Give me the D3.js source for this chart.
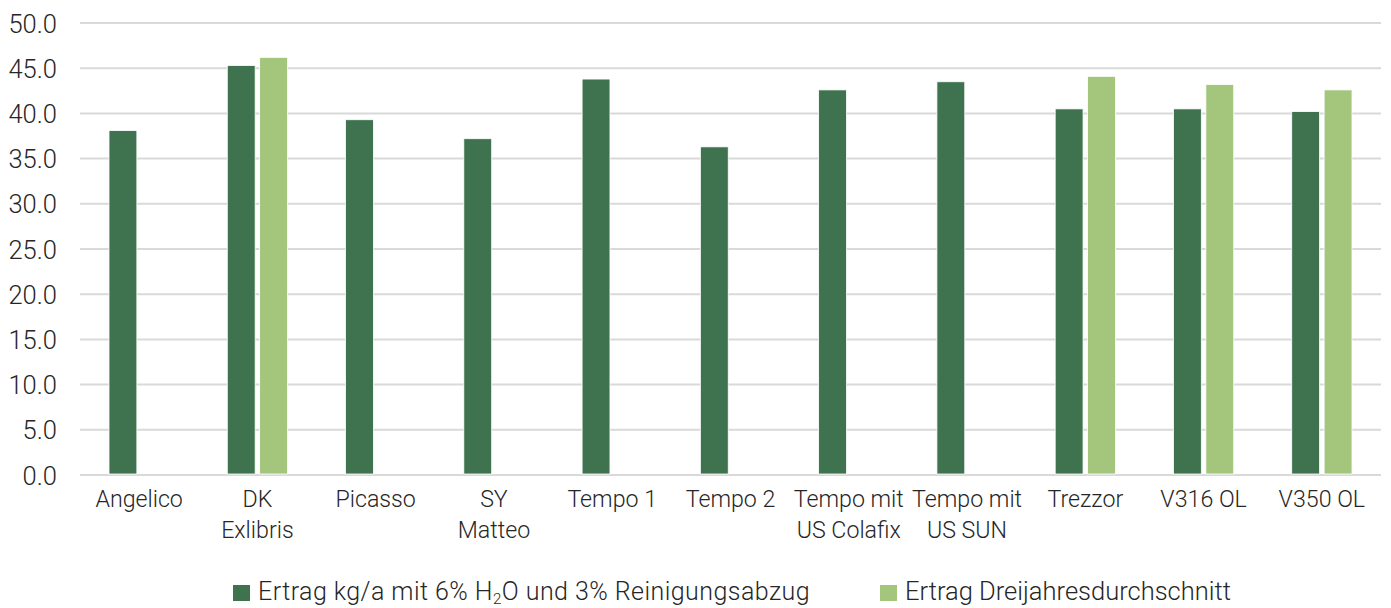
<!DOCTYPE html>
<html>
<head>
<meta charset="utf-8">
<script src="https://cdn.jsdelivr.net/npm/d3@7"></script>
<style>
  html, body { margin: 0; padding: 0; background: #fff; }
  svg { display: block; }
  text { font-family: Roboto, "Liberation Sans", sans-serif; font-weight: 300; fill: #262626; }
</style>
</head>
<body>
<svg id="chart" width="1391" height="608"></svg>
<script>
const categories = ["Angelico", "DK\nExlibris", "Picasso", "SY\nMatteo", "Tempo 1", "Tempo 2",
  "Tempo mit\nUS Colafix", "Tempo mit\nUS SUN", "Trezzor", "V316 OL", "V350 OL"];
const seriesNames = ["Ertrag kg/a mit 6% H2O und 3% Reinigungsabzug", "Ertrag Dreijahresdurchschnitt"];
const ertrag = [38.1, 45.3, 39.3, 37.2, 43.8, 36.3, 42.6, 43.5, 40.5, 40.5, 40.2];
const dreijahr = [null, 46.2, null, null, null, null, null, null, 44.1, 43.2, 42.6];
const yTicks = [0, 5, 10, 15, 20, 25, 30, 35, 40, 45, 50];
const colors = ["#3f7350", "#a3c67c"];

const svg = d3.select("#chart");
const mLeft = 80, mRight = 1381, mTop = 23, mBottom = 475;

const x = d3.scaleBand().domain(categories).range([mLeft, mRight]).paddingInner(0).paddingOuter(0);
const y = d3.scaleLinear().domain([0, 50]).range([mBottom, mTop]);
const inner = d3.scaleBand().domain([0, 1]).range([29, x.bandwidth() - 29]).paddingInner(0.14);

// gridlines
svg.append("g").selectAll("line").data(yTicks).join("line")
  .attr("x1", mLeft).attr("x2", mRight)
  .attr("y1", d => y(d)).attr("y2", d => y(d))
  .attr("stroke", "#d9d9d9").attr("stroke-width", 2);

// y axis labels
const yAxis = d3.axisLeft(y).tickValues(yTicks).tickFormat(d3.format(".1f")).tickSize(0).tickPadding(0);
const ya = svg.append("g").attr("transform", `translate(57,0)`).call(yAxis);
ya.select(".domain").remove();
ya.selectAll("text").style("font-size", "25.5px").style("font-family", "Roboto, sans-serif")
  .attr("fill", "#262626").attr("dy", "0.36em");

// bars
const series = [ertrag, dreijahr];
series.forEach((vals, si) => {
  svg.append("g").selectAll("rect")
    .data(vals.map((v, i) => ({ v, c: categories[i] })).filter(d => d.v != null))
    .join("rect")
    .attr("x", d => x(d.c) + inner(si))
    .attr("width", inner.bandwidth())
    .attr("y", d => y(d.v))
    .attr("height", d => y(0) - y(d.v) - 1)
    .attr("fill", colors[si])
    .attr("stroke", "#ffffff").attr("stroke-width", 0.8);
});

// category labels
const xl = svg.append("g");
categories.forEach(c => {
  const t = xl.append("text").attr("text-anchor", "middle")
    .attr("x", x(c) + x.bandwidth() / 2).attr("y", 507)
    .style("font-size", "23.2px");
  c.split("\n").forEach((line, i) => {
    t.append("tspan").attr("x", x(c) + x.bandwidth() / 2).attr("dy", i === 0 ? 0 : 30.5).text(line);
  });
});

// legend
const lg = svg.append("g");
lg.append("rect").attr("x", 233).attr("y", 585).attr("width", 17).attr("height", 16).attr("fill", colors[0]);
const t1 = lg.append("text").attr("x", 258).attr("y", 600).style("font-size", "25px").style("letter-spacing", "0.45px");
t1.append("tspan").text("Ertrag kg/a mit 6% H");
t1.append("tspan").text("2").style("font-size", "15px").attr("dy", 4);
t1.append("tspan").text("O und 3% Reinigungsabzug").attr("dy", -4);
lg.append("rect").attr("x", 880).attr("y", 585).attr("width", 17).attr("height", 16).attr("fill", colors[1]);
lg.append("text").attr("x", 905).attr("y", 600).style("font-size", "25.5px").text(seriesNames[1]);
</script>
</body>
</html>
